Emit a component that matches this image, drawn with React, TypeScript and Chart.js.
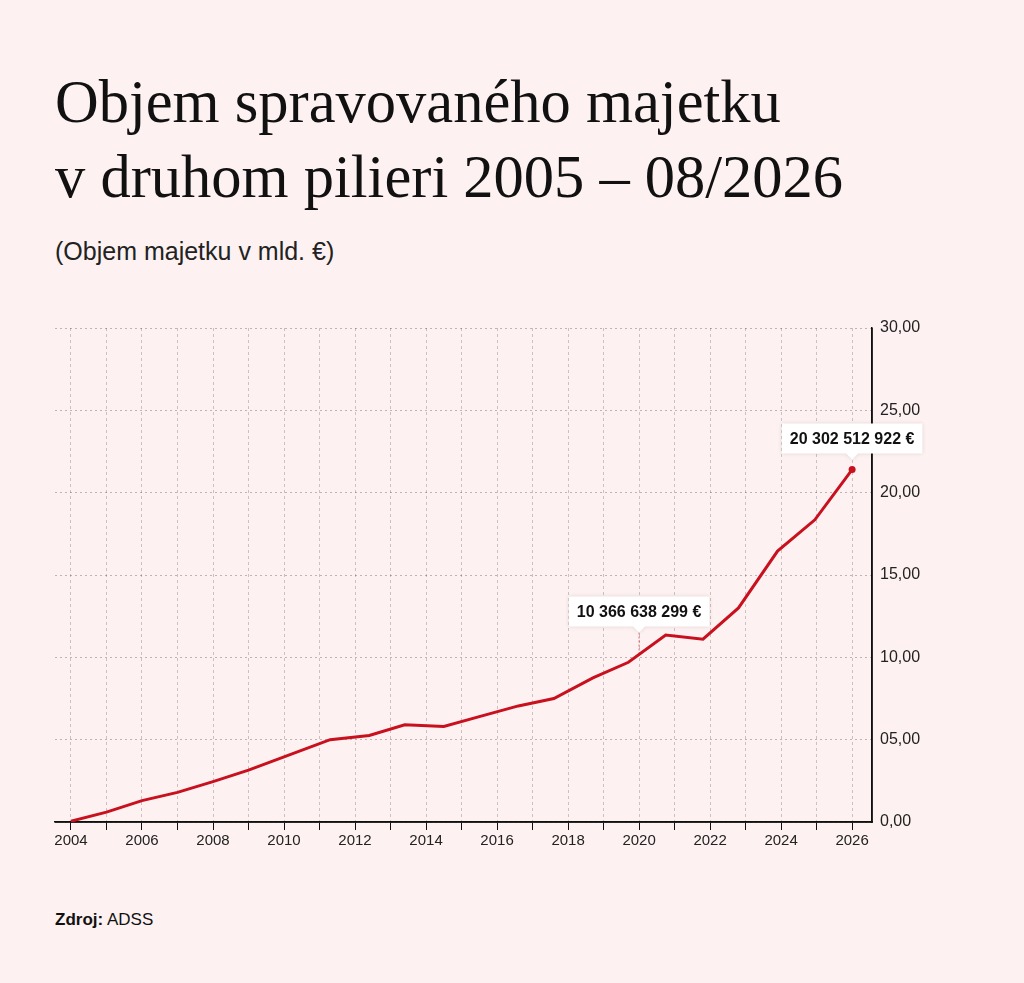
import React, { useEffect, useRef } from "react";
import { Chart, registerables } from "chart.js";
Chart.register(...registerables);

const years = [2004.0, 2005.0, 2006.0, 2007.0, 2008.0, 2009.0, 2010.0, 2011.3, 2012.4, 2013.4, 2014.5, 2015.5, 2016.6, 2017.6, 2018.7, 2019.7, 2020.75, 2021.8, 2022.8, 2023.9, 2024.95, 2026.0];
const values = [0.05, 0.6, 1.3, 1.8, 2.45, 3.15, 3.95, 5.0, 5.25, 5.9, 5.8, 6.4, 7.05, 7.5, 8.75, 9.7, 11.35, 11.1, 13.0, 16.45, 18.35, 21.4];
const yTicks = [0, 5, 10, 15, 20, 25, 30];
const callouts = [
  { x: 2020, text: "10 366 638 299 €", dot: false },
  { x: 2026, text: "20 302 512 922 €", dot: true },
];

const FONT = "Arial, 'Liberation Sans', sans-serif";

function valueAt(x: number) {
  for (let i = 0; i < years.length - 1; i++) {
    if (x >= years[i] && x <= years[i + 1]) {
      const t = (x - years[i]) / (years[i + 1] - years[i]);
      return values[i] + t * (values[i + 1] - values[i]);
    }
  }
  return values[values.length - 1];
}

const calloutPlugin = {
  id: "callouts",
  afterDatasetsDraw(chart: any) {
    const { ctx, scales } = chart;
    const xs = scales.x, ys = scales.y;
    callouts.forEach((c) => {
      const px = xs.getPixelForValue(c.x);
      const py = ys.getPixelForValue(valueAt(c.x));
      ctx.save();
      ctx.font = "bold 16px " + FONT;
      const w = ctx.measureText(c.text).width + 16;
      const h = 30;
      const gap = c.dot ? 10 : 22;
      const by = py - gap - h - 6;
      if (!c.dot) {
        ctx.strokeStyle = "rgba(200,16,30,0.6)";
        ctx.setLineDash([2, 2]);
        ctx.lineWidth = 1;
        ctx.beginPath();
        ctx.moveTo(px, by + h + 6);
        ctx.lineTo(px, py);
        ctx.stroke();
        ctx.setLineDash([]);
      }
      ctx.shadowColor = "rgba(0,0,0,0.12)";
      ctx.shadowBlur = 4;
      ctx.fillStyle = "#ffffff";
      ctx.beginPath();
      ctx.rect(px - w / 2, by, w, h);
      ctx.moveTo(px - 6, by + h);
      ctx.lineTo(px, by + h + 6);
      ctx.lineTo(px + 6, by + h);
      ctx.fill();
      ctx.shadowBlur = 0;
      ctx.fillStyle = "#111";
      ctx.textAlign = "center";
      ctx.textBaseline = "middle";
      ctx.fillText(c.text, px, by + h / 2 + 1);
      if (c.dot) {
        ctx.fillStyle = "#c8101e";
        ctx.beginPath();
        ctx.arc(px, py, 3.5, 0, Math.PI * 2);
        ctx.fill();
      }
      ctx.restore();
    });
  },
};

export default function App() {
  const ref = useRef<HTMLCanvasElement>(null);
  useEffect(() => {
    const chart = new Chart(ref.current!, {
      type: "line",
      data: {
        datasets: [
          {
            data: years.map((x, i) => ({ x, y: values[i] })),
            borderColor: "#c8101e",
            borderWidth: 3,
            pointRadius: 0,
            tension: 0,
          },
        ],
      },
      options: {
        animation: false,
        responsive: false,
        layout: { padding: { left: 55, top: 28, right: 0, bottom: 0 } },
        plugins: { legend: { display: false }, tooltip: { enabled: false } },
        scales: {
          x: {
            type: "linear",
            min: 2003.55,
            max: 2026.56,
            afterBuildTicks: (s: any) => {
              const t = [];
              for (let y = 2004; y <= 2026; y++) t.push({ value: y });
              s.ticks = t;
            },
            afterFit: (s: any) => { s.height = 58; },
            ticks: {
              autoSkip: false,
              maxRotation: 0,
              color: "#222",
              font: { family: FONT, size: 15 },
              padding: 2,
              callback: (v: any) => (Number(v) % 2 === 0 ? String(v) : ""),
            },
            grid: {
              color: "rgba(0,0,0,0.2)",
              tickColor: "#111",
              tickLength: 8,
            } as any,
            border: { color: "#111", width: 1.5, dash: [3, 3] } as any,
          },
          y: {
            position: "right",
            min: 0,
            max: 30,
            afterBuildTicks: (s: any) => { s.ticks = yTicks.map((v) => ({ value: v })); },
            afterFit: (s: any) => { s.width = 152; },
            ticks: {
              color: "#222",
              font: { family: FONT, size: 16 },
              padding: 8,
              callback: (v: any) => (v === 0 ? "0,00" : Number(v).toFixed(2).padStart(5, "0").replace(".", ",")),
            },
            grid: { color: "rgba(0,0,0,0.25)", drawTicks: false },
            border: { color: "#111", width: 1.5, dash: [2, 3] } as any,
          },
        },
      },
      plugins: [
        {
          id: "fixBorders",
          beforeDatasetsDraw(chart: any) {
            const { ctx, chartArea } = chart;
            ctx.save();
            ctx.strokeStyle = "#111";
            ctx.lineWidth = 1.5;
            ctx.beginPath();
            ctx.moveTo(chartArea.left, chartArea.bottom);
            ctx.lineTo(chartArea.right, chartArea.bottom);
            ctx.lineTo(chartArea.right, chartArea.top);
            ctx.stroke();
            ctx.restore();
          },
        },
        calloutPlugin,
      ],
    } as any);
    return () => chart.destroy();
  }, []);

  return (
    <div style={{ position: "fixed", left: 0, top: 0, width: 1024, height: 983, background: "#fdf2f1", overflow: "hidden" }}>
      <div style={{ position: "absolute", left: 55, top: 64, fontFamily: "'Liberation Serif', 'Times New Roman', serif", fontSize: 60.5, lineHeight: "75px", color: "#111", whiteSpace: "nowrap" }}>
        Objem spravovaného majetku<br />v druhom pilieri 2005 – 08/2026
      </div>
      <div style={{ position: "absolute", left: 55, top: 237, fontFamily: FONT, fontSize: 25, color: "#222" }}>
        (Objem majetku v mld. €)
      </div>
      <canvas ref={ref} width={1024} height={580} style={{ position: "absolute", left: 0, top: 300 }} />
      <div style={{ position: "absolute", left: 55, top: 910, fontFamily: FONT, fontSize: 17, color: "#111" }}>
        <b>Zdroj:</b> ADSS
      </div>
    </div>
  );
}
